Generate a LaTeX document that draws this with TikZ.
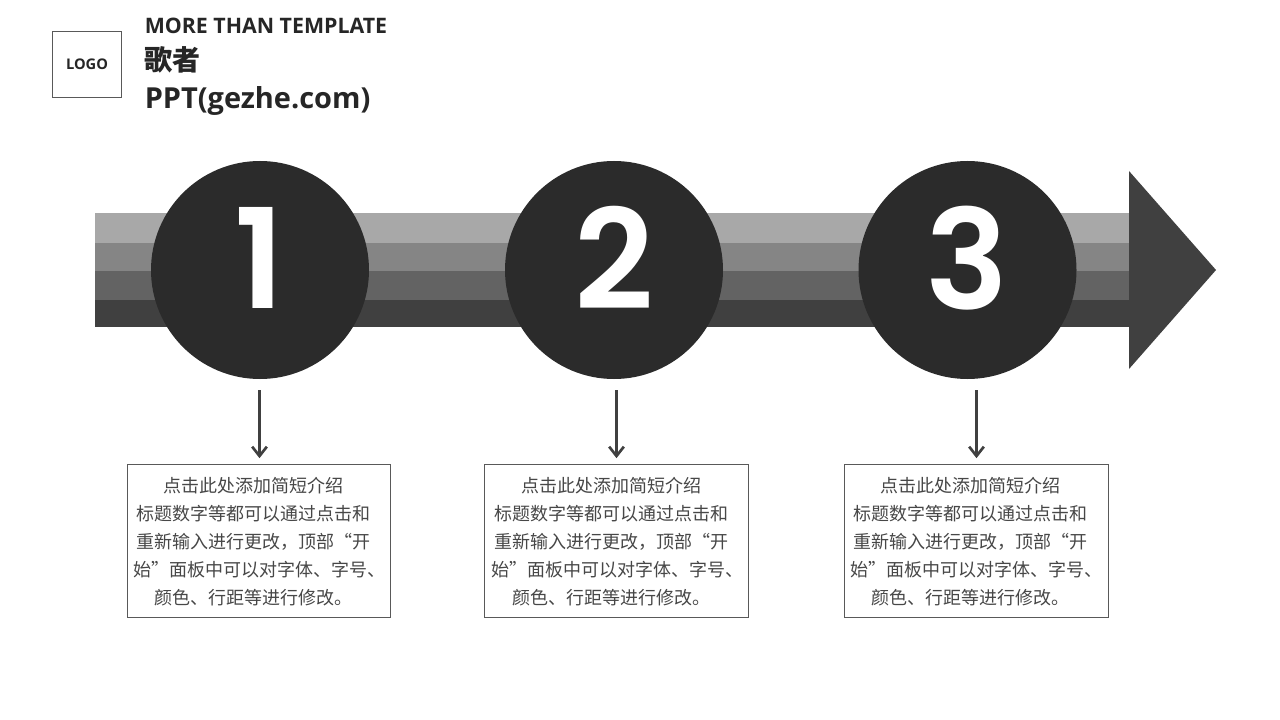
\documentclass[tikz,border=0pt]{standalone}
\usepackage{fontspec}
\setmainfont{Open Sans}
\newfontfamily\cjk{Noto Sans CJK SC}
\newfontfamily\numfont{Poppins SemiBold}
\usetikzlibrary{arrows.meta}
\usepackage{color}
\colorlet{stripeone}{black!34}
\colorlet{stripetwo}{black!48}
\colorlet{stripethree}{black!61}
\colorlet{stripefour}{black!75}
\colorlet{circdark}{black!83}
\colorlet{textgrey}{black!72}
\tikzset{
    circnum/.style={circle, fill=circdark, minimum size=163.5pt, inner sep=0pt},
    numtext/.style={text=white, inner sep=0pt, font=\numfont\fontsize{104}{104}\selectfont},
    infobox/.style={draw=black!65, line width=0.75pt, minimum width=197.6pt, minimum height=114.5pt, inner sep=0pt},
    infotext/.style={align=center, text=textgrey, inner sep=0pt, font=\cjk\fontsize{13.5}{21}\selectfont},
    stemarrow/.style={draw=stripefour, line width=2.2pt, -{Straight Barb[length=7pt,width=11pt,line width=2pt]}, shorten >=4.5pt},
    titletext/.style={anchor=west, inner sep=0pt, text=black!85, font=\bfseries\fontsize{16}{20}\selectfont}
}

\begin{document}
\begin{tikzpicture}[x=0.75pt,y=-0.75pt]
        \useasboundingbox (0,0) rectangle (1280,720);
        \fill[white] (0,0) rectangle (1280,720);
        % header
        \node[draw=black!65, line width=0.75pt, minimum width=52pt, minimum height=50pt, inner sep=0pt, text=black!85, font=\bfseries\fontsize{11}{12}\selectfont] (logo) at (87,64.5) {LOGO};
        \node[titletext] (title) at (144.5,25.5) {MORE THAN TEMPLATE};
        \node[titletext, font=\cjk\bfseries\fontsize{21}{24}\selectfont] (singer) at (144,60) {歌者};
        \node[titletext, font=\bfseries\fontsize{21.7}{24}\selectfont] (site) at (144.5,101) {PPT(gezhe.com)};
        % stripes of the long arrow
        \foreach \ya/\yb/\c in {213/243/stripeone,243/271/stripetwo,271/300/stripethree,300/327/stripefour}{
            \fill[\c] (95,\ya) rectangle (1130,\yb);
        }
        \fill[stripefour] (1129,171) -- (1216,270) -- (1129,369) -- cycle;
        % steps
        \foreach \i/\cx/\bx/\tx/\ax in {1/260/258.75/253/259.5,2/614/616.5/611/616.5,3/967.5/976.5/970.5/976.5}{
            \node[circnum] (circ\i) at (\cx,270) {};
            \node[numtext] (num\i) at (\cx,258) {\i};
            \node[infobox] (box\i) at (\bx,541) {};
            \node[infotext] (text\i) at (\tx,542) {点击此处添加简短介绍\\标题数字等都可以通过点击和\\重新输入进行更改，顶部“开\\\hspace*{9pt}始”面板中可以对字体、字号、\\颜色、行距等进行修改。};
            \coordinate (top\i) at (\ax,390);
            \draw[stemarrow] (top\i) -- (top\i |- box\i.north);
        }
    \end{tikzpicture}
\end{document}
